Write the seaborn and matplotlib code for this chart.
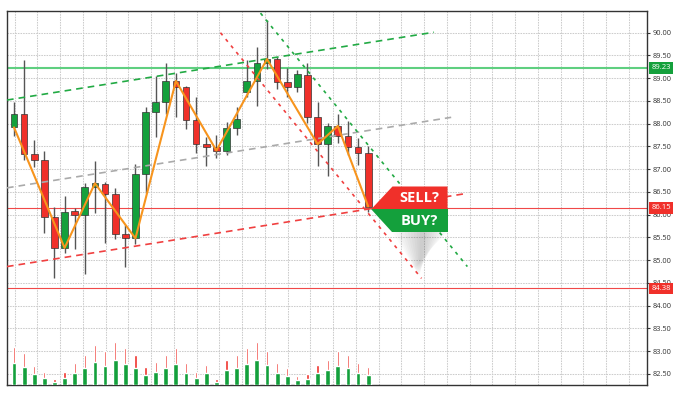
import numpy as np
import pandas as pd
import seaborn as sns
import matplotlib.pyplot as plt
import matplotlib.transforms as mtransforms
from matplotlib.patches import Polygon

# ---------------------------
# Data
# ---------------------------
opens = [87.92, 88.21, 87.33, 87.20, 85.96, 85.27, 86.08, 85.99, 86.60, 86.68,
         86.46, 85.57, 85.48, 86.89, 88.26, 88.47, 88.94, 88.80, 88.09, 87.55,
         87.49, 87.41, 87.90, 88.70, 88.94, 89.34, 89.42, 88.92, 88.81, 89.07,
         88.15, 87.55, 87.95, 87.74, 87.49, 87.36]
closes = [88.21, 87.33, 87.20, 85.96, 85.27, 86.07, 85.99, 86.60, 86.69, 86.46,
          85.57, 85.48, 86.89, 88.26, 88.47, 88.94, 88.81, 88.09, 87.55, 87.49,
          87.41, 87.90, 88.10, 88.94, 89.34, 89.42, 88.92, 88.81, 89.09, 88.15,
          87.55, 87.95, 87.74, 87.48, 87.36, 86.18]
highs = [88.48, 89.40, 87.64, 87.40, 86.17, 86.42, 86.15, 86.69, 87.17, 86.71,
         86.59, 85.77, 87.11, 88.36, 89.05, 89.34, 89.11, 88.82, 88.58, 87.71,
         87.75, 88.04, 88.36, 89.39, 89.68, 90.28, 89.47, 89.22, 89.18, 89.34,
         88.48, 88.02, 88.21, 88.07, 87.68, 87.51]
lows = [87.73, 87.20, 87.05, 85.60, 84.60, 85.15, 85.24, 84.70, 86.03, 85.37,
        85.46, 84.86, 85.36, 86.48, 87.70, 88.21, 88.15, 87.88, 87.35, 87.07,
        87.24, 87.32, 87.75, 88.58, 88.39, 89.20, 88.76, 88.58, 88.70, 88.01,
        87.07, 86.84, 87.57, 87.31, 87.09, 86.07]

# volume (drawn in price units above the bottom of the chart)
vol_buy = [0.48, 0.40, 0.24, 0.16, 0.07, 0.16, 0.27, 0.38, 0.51, 0.42,
           0.55, 0.46, 0.38, 0.22, 0.29, 0.38, 0.46, 0.27, 0.16, 0.26,
           0.07, 0.32, 0.37, 0.46, 0.55, 0.43, 0.27, 0.20, 0.11, 0.13,
           0.26, 0.32, 0.42, 0.37, 0.27, 0.23]
vol_sell = [0.84, 0.70, 0.42, 0.29, 0.13, 0.29, 0.48, 0.66, 0.89, 0.75,
            0.95, 0.81, 0.66, 0.40, 0.51, 0.66, 0.81, 0.48, 0.29, 0.45,
            0.13, 0.56, 0.66, 0.81, 0.95, 0.75, 0.48, 0.37, 0.20, 0.24,
            0.45, 0.56, 0.75, 0.66, 0.48, 0.40]

# zigzag pivots (candle index, price)
zz_idx = [0, 5, 8, 12, 16, 20, 25, 30, 32, 35]
zz_price = [87.92, 85.27, 86.69, 85.48, 88.94, 87.41, 89.42, 87.55, 87.95, 86.18]

# trend lines: (x0, y0, x1, y1)
trend_up_green = [-0.69, 88.52, 41.5, 90.01]
trend_up_gray = [-0.69, 86.59, 43.2, 88.14]
trend_up_red = [-0.69, 84.86, 44.8, 86.47]
trend_dn_green = [24.36, 90.43, 44.8, 84.86]
trend_dn_red = [20.4, 90.00, 40.27, 84.60]

level_resist = 89.23
level_current = 86.15
level_support = 84.38

y_ticks = np.arange(82.5, 90.01, 0.5)

RED = "#f0302a"
GREEN = "#14a03c"
ORANGE = "#f7941d"

sns.set_theme(style="white")
plt.rcParams["font.family"] = ["Open Sans", "DejaVu Sans"]

fig = plt.figure(figsize=(6.82, 3.98), dpi=100)
ax = fig.add_axes([7 / 682, 13 / 398, 639.7 / 682, 374 / 398])

ymin, ymax = 82.257, 90.477
ax.set_xlim(-0.69, 62.52)
ax.set_ylim(ymin, ymax)

# grid
ax.set_xticks(0.07 + 2.248 * np.arange(28))
ax.set_yticks(y_ticks)
ax.set_yticklabels([f"{v:.2f}" for v in y_ticks])
ax.grid(True, color="#cccccc", linestyle=(0, (1.5, 1)), linewidth=0.75)
ax.set_axisbelow(True)
ax.yaxis.tick_right()
ax.tick_params(axis="x", length=0, labelbottom=False)
ax.tick_params(axis="y", right=True, length=2.5, width=0.8, color="#333333",
               labelsize=5.3, labelcolor="#333333", pad=2)
for s in ax.spines.values():
    s.set_color("#333333")
    s.set_linewidth(1.0)

idx = np.arange(len(opens))
df = pd.DataFrame({"o": opens, "c": closes, "h": highs, "l": lows,
                   "vb": vol_buy, "vs": vol_sell}, index=idx)
up = df["c"] >= df["o"]

# horizontal levels
ax.axhline(level_resist, color="#5fcf80", linewidth=1.5, zorder=1)
ax.axhline(level_current, color="#f04848", linewidth=0.8, zorder=1)
ax.axhline(level_support, color="#f04848", linewidth=0.8, zorder=1)

# volume
ax.bar(idx, df["vs"], width=0.22, bottom=ymin, color=RED, zorder=2)
ax.bar(idx, df["vb"], width=0.48, bottom=ymin, color=GREEN, zorder=3)

# candles
ax.vlines(idx, df["l"], df["h"], color="#555555", linewidth=1.0, zorder=3)
body_lo = np.minimum(df["o"], df["c"])
body_h = np.abs(df["c"] - df["o"]).clip(lower=0.04)
colors = np.where(up, GREEN, RED)
ax.bar(idx, body_h, width=0.66, bottom=body_lo, color=colors,
       edgecolor="#333333", linewidth=0.5, zorder=4)

# trend lines
def trend(seg, color, dash):
    t = pd.DataFrame({"x": [seg[0], seg[2]], "y": [seg[1], seg[3]]})
    sns.lineplot(data=t, x="x", y="y", ax=ax, color=color, linewidth=1.2,
                 dashes=False, zorder=5).lines[-1].set_dashes(dash)

trend(trend_up_green, "#22aa44", (4, 3))
trend(trend_up_gray, "#aaaaaa", (4, 3))
trend(trend_up_red, "#f04040", (4, 3))
trend(trend_dn_green, "#22aa44", (2, 3))
trend(trend_dn_red, "#f04040", (2, 3))

# zigzag
zz = pd.DataFrame({"x": zz_idx, "y": zz_price})
sns.lineplot(data=zz, x="x", y="y", ax=ax, color=ORANGE, linewidth=1.5,
             sort=False, zorder=6)
ax.set_xlabel("")
ax.set_ylabel("")

# SELL? / BUY? flag anchored at the last candle
tx, ty = idx[-1] + 0.3, closes[-1] - 0.06
x_in, x_out = idx[-1] + 2.4, idx[-1] + 7.84
y_top, y_bot = ty + 0.50, ty - 0.50
# soft shadow under the flag
for k in range(10):
    ax.add_patch(Polygon([(x_in + 0.3 * k, y_bot),
                          (x_out - 0.25 * k, y_bot),
                          (x_out - 1.6 - 0.1 * k, y_bot - 0.35 - 0.04 * k),
                          (x_in + 2.2 + 0.05 * k, y_bot - 0.8 - 0.02 * k)],
                         closed=True, fc="#000000", ec="none", alpha=0.018, zorder=6))
ax.add_patch(Polygon([(tx, ty), (x_in, y_top), (x_out, y_top), (x_out, ty)],
                     closed=True, fc=RED, ec="none", zorder=7))
ax.add_patch(Polygon([(tx, ty), (x_out, ty), (x_out, y_bot), (x_in, y_bot)],
                     closed=True, fc=GREEN, ec="none", zorder=7))
xm = (x_in + x_out) / 2 - 0.05
ax.text(xm, (ty + y_top) / 2, "SELL?", color="white", fontsize=10.5,
        fontweight="bold", ha="center", va="center", zorder=8)
ax.text(xm, (ty + y_bot) / 2, "BUY?", color="white", fontsize=10.5,
        fontweight="bold", ha="center", va="center", zorder=8)

# price labels on the right axis
trans = mtransforms.blended_transform_factory(ax.transAxes, ax.transData)
for val, col in [(level_resist, GREEN), (level_current, RED), (level_support, RED)]:
    ax.annotate(f"{val:.2f}", xy=(1.0, val), xycoords=trans, xytext=(3.5, 0),
                textcoords="offset points", ha="left", va="center",
                fontsize=5.5, color="white", annotation_clip=False, zorder=10,
                bbox=dict(boxstyle="square,pad=0.3", fc=col, ec="none"))

fig.savefig("out.png", dpi=100)
